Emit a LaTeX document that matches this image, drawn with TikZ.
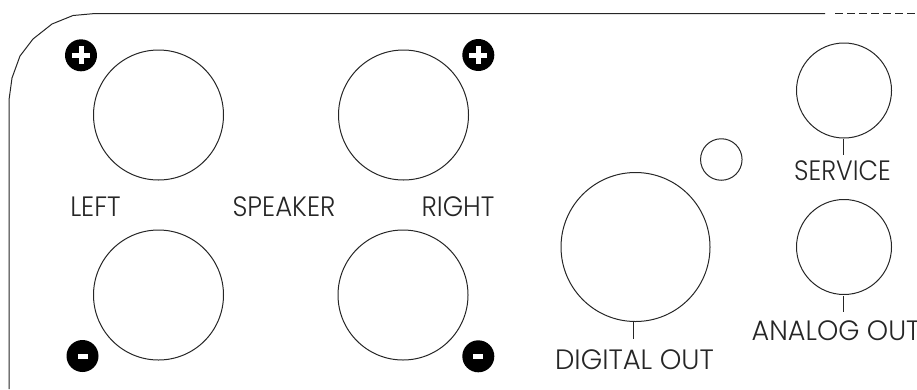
\documentclass[tikz,border=0pt]{standalone}
\usepackage{fontspec}
\setmainfont[FakeStretch=0.93]{Poppins Light}
\tikzset{
  x=1pt,y=-1pt,
  ln/.style={draw=black!85,line width=1pt},
  jack/.style={circle,ln,inner sep=0pt,minimum size=#1},
  lbl/.style={inner sep=0pt,text=black!85,font=\fontsize{28}{32}\selectfont},
  pol/.style={circle,fill=black,inner sep=0pt,minimum size=32pt},
  tick/.style={draw=black!85,line width=0.8pt}
}
\begin{document}
\begin{tikzpicture}
\useasboundingbox (0,0) rectangle (917,389);
\clip (0,0) rectangle (917,389);
\coordinate (bl) at (9,389);
\coordinate (tr) at (825,13.5);
\coordinate (ds) at (835,13.5);
\coordinate (de) at (917,13.5);
\draw[ln,line join=round] (bl) -- (9,100) -- (12,78) -- (20,56) -- (33,39) -- (52,24) -- (73,15.5) -- (95,13.5) -- (tr);
\draw[ln,dash pattern=on 8pt off 4pt] (ds) -- (de);
\node[jack=130pt] (lt) at (158.5,115) {};
\node[jack=130pt] (lb) at (158.5,295) {};
\node[jack=130pt] (rt) at (403.5,115) {};
\node[jack=130pt] (rb) at (403,295) {};
\node[jack=149pt] (dig) at (635.5,247) {};
\node[jack=41.5pt] (led) at (721.3,159.5) {};
\node[jack=95pt] (svc) at (844,90.5) {};
\node[jack=95pt] (ana) at (844,247) {};
\node[pol] (p1) at (81,55.3) {};
\node[pol] (p2) at (478.3,55) {};
\node[pol] (m1) at (82.5,356) {};
\node[pol] (m2) at (478.3,356.3) {};
\foreach \n in {p1,p2}{
  \fill[white] ([xshift=-9pt,yshift=-2.5pt]\n.center) rectangle ([xshift=9pt,yshift=2.5pt]\n.center);
  \fill[white] ([xshift=-2.5pt,yshift=-9pt]\n.center) rectangle ([xshift=2.5pt,yshift=9pt]\n.center);
}
\foreach \n in {m1,m2}{
  \fill[white] ([xshift=-5pt,yshift=-2.5pt]\n.center) rectangle ([xshift=5pt,yshift=2.5pt]\n.center);
}
\node[lbl] (tl) at (95.5,207) {LEFT};
\node[lbl] (ts) at (284,207) {SPEAKER};
\node[lbl] (tr2) at (458,207) {RIGHT};
\node[lbl] (td) at (634.5,360) {\scalebox{1.055}[1]{DIGITAL OUT}};
\node[lbl] (tsv) at (842.5,171) {\scalebox{0.97}[1]{SERVICE}};
\node[lbl] (tan) at (836,331) {\scalebox{1.04}[1]{ANALOG OUT}};
\coordinate (d1) at (633.5,322);
\draw[tick] (d1) -- (633.5,339);
\draw[tick] (843,139) -- (843,155);
\draw[tick] (843,296) -- (843,312);
\end{tikzpicture}
\end{document}
